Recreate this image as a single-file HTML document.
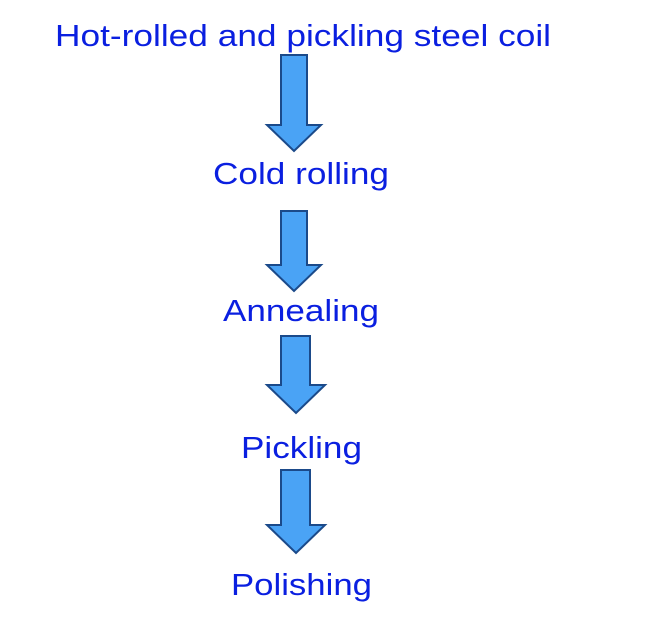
<!DOCTYPE html>
<html><head><style>html,body{margin:0;padding:0;background:#fff}</style></head>
<body>
<svg width="650" height="627" xmlns="http://www.w3.org/2000/svg" style="display:block">
<g font-family="Liberation Sans, sans-serif" font-size="31" fill="#0a1fe0">
<text x="55" y="46" textLength="496" lengthAdjust="spacingAndGlyphs">Hot-rolled and pickling steel coil</text>
<text x="213" y="184" textLength="176" lengthAdjust="spacingAndGlyphs">Cold rolling</text>
<text x="223" y="321" textLength="156" lengthAdjust="spacingAndGlyphs">Annealing</text>
<text x="241" y="458" textLength="121" lengthAdjust="spacingAndGlyphs">Pickling</text>
<text x="231" y="595" textLength="141" lengthAdjust="spacingAndGlyphs">Polishing</text>
</g>
<g fill="#4aa3f5" stroke="#1b4a8a" stroke-width="2" stroke-linejoin="miter">
<polygon points="281,55 307,55 307,125 321,125 294,151 267,125 281,125"/>
<polygon points="281,211 307,211 307,265 321,265 294,291 267,265 281,265"/>
<polygon points="281,336 310,336 310,385 325,385 296,413 267,385 281,385"/>
<polygon points="281,470 310,470 310,525 325,525 296,553 267,525 281,525"/>
</g>
</svg>
</body></html>
